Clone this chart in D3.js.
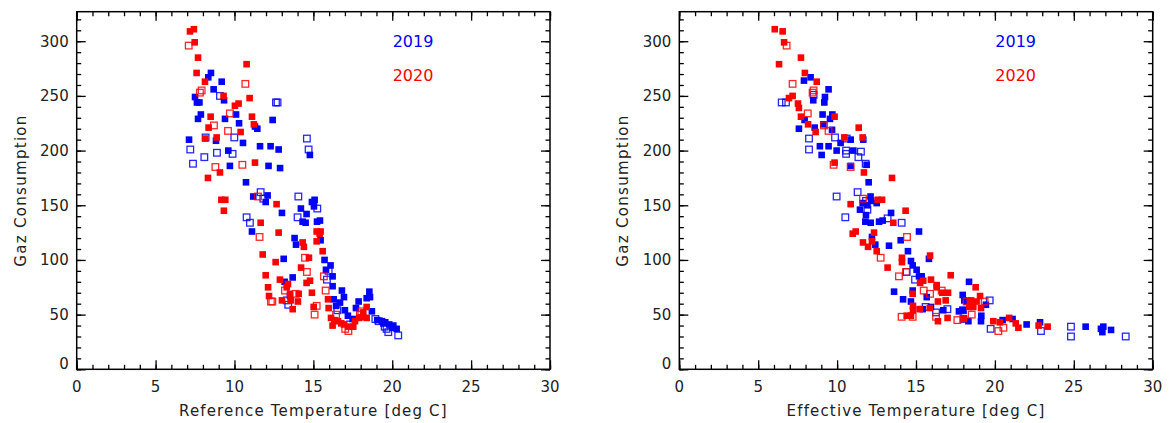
<!DOCTYPE html>
<html><head><meta charset="utf-8">
<script src="https://cdn.jsdelivr.net/npm/d3@7"></script>
<style>
html,body{margin:0;padding:0;background:#fff;}
svg{display:block;}
text{font-family:"DejaVu Sans",sans-serif;fill:#222;}
</style></head>
<body>
<svg id="chart" width="1173" height="423"></svg>
<script>
// ---------- DATA (temperature [deg C], gas consumption) ----------
const xTicks = [0,5,10,15,20,25,30];
const yTicks = [0,50,100,150,200,250,300];
const yearLabels = ["2019","2020"];
const xTitles = ["Reference Temperature [deg C]","Effective Temperature [deg C]"];
const yTitle = "Gaz Consumption";

// Left panel: Reference temperature
const ref2019Filled = [[7.50,249],[7.62,244],[7.78,244],[7.87,233],[7.69,229],[8.34,267],[8.51,271],[8.68,256],[9.19,263],[9.34,246],[10.10,233],[9.40,229],[10.29,225],[11.30,222],[11.45,220],[12.42,228],[7.12,210],[8.83,209],[10.54,207],[9.61,200],[11.62,204],[12.29,204],[12.80,201],[9.71,186],[12.16,186],[12.89,184],[10.73,171],[11.19,158],[12.10,159],[14.78,196],[15.08,155],[11.98,153],[14.91,153],[15.04,149],[14.21,147],[14.57,142],[13.01,143],[14.32,135],[14.51,134],[15.23,135],[15.42,136],[11.11,126],[15.46,118],[13.81,120],[13.90,114],[13.12,101],[15.71,100],[16.09,95],[15.80,91],[16.22,85],[13.18,80],[13.69,84],[16.22,76],[16.81,72],[13.52,67],[16.29,64],[16.94,66],[16.69,61],[16.44,58],[17.00,54],[17.19,49],[17.49,46],[17.87,62],[17.70,56],[18.38,65],[18.55,71],[18.59,66],[18.71,53],[19.05,45],[19.35,44],[19.56,43],[19.81,41],[20.07,40],[20.28,37],[20.02,38],[19.44,42]];
const ref2019Open = [[9.08,250],[8.17,212],[9.99,212],[7.20,201],[7.37,188],[8.09,194],[8.89,198],[9.88,197],[11.66,162],[12.63,244],[12.73,244],[14.05,158],[14.59,211],[14.70,201],[11.83,156],[15.25,147],[10.77,139],[10.98,134],[14.00,139],[15.97,90],[15.86,82],[13.31,63],[13.41,59],[16.52,54],[17.32,41],[18.93,46],[19.14,44],[19.64,37],[20.38,31],[19.52,39],[19.75,34]];
const ref2020Filled = [[7.18,309],[7.43,311],[7.48,299],[7.69,285],[7.60,271],[8.13,263],[10.77,279],[9.31,250],[10.03,241],[10.26,243],[10.96,248],[8.49,231],[8.36,221],[11.11,231],[11.23,224],[10.39,217],[8.87,212],[8.15,211],[11.30,189],[9.08,180],[8.32,175],[9.17,155],[9.42,155],[9.33,145],[12.67,151],[11.66,134],[12.80,125],[15.21,126],[15.46,126],[15.40,124],[15.21,117],[14.32,116],[14.40,112],[15.59,108],[11.79,105],[12.61,98],[14.72,102],[14.22,93],[11.98,86],[12.88,82],[13.39,78],[13.31,75],[14.57,79],[14.79,81],[12.13,75],[12.19,67],[14.91,70],[13.52,69],[14.07,69],[13.01,63],[13.56,63],[14.02,62],[13.69,55],[15.93,64],[15.97,56],[15.02,57],[16.12,47],[16.33,45],[16.22,40],[16.56,44],[16.77,42],[16.94,41],[17.21,39],[17.53,39],[17.64,44],[17.91,47],[18.16,48],[18.38,57],[18.16,52],[18.38,47]];
const ref2020Open = [[7.10,296],[7.81,253],[7.92,255],[10.69,261],[9.71,234],[8.70,223],[9.59,218],[8.79,185],[10.50,187],[11.49,158],[11.59,121],[14.47,102],[14.59,89],[15.67,85],[13.20,72],[15.78,72],[13.88,69],[12.31,62],[12.40,62],[15.21,58],[15.08,50],[17.02,37],[17.22,35],[16.44,50],[18.04,53],[17.95,50]];

// Right panel: Effective temperature
const eff2019Filled = [[7.90,264],[8.32,267],[9.46,256],[8.49,246],[9.23,249],[9.19,244],[9.08,233],[9.70,233],[9.55,229],[7.58,220],[7.94,228],[8.58,221],[9.13,224],[9.68,219],[8.91,204],[9.46,204],[9.02,196],[9.97,200],[10.22,207],[10.86,210],[11.03,200],[11.66,210],[10.86,186],[11.87,187],[12.00,171],[12.12,158],[12.15,154],[11.62,152],[11.92,150],[11.45,146],[11.83,141],[12.51,152],[13.42,143],[11.79,135],[12.13,134],[12.66,135],[12.89,136],[15.19,126],[12.21,121],[14.03,118],[12.42,114],[13.29,113],[14.49,108],[14.68,99],[15.82,101],[14.79,95],[15.04,91],[15.19,85],[15.36,85],[18.36,80],[13.61,71],[14.79,72],[15.68,66],[14.18,64],[14.68,62],[17.96,68],[18.06,63],[18.21,62],[19.43,59],[15.42,55],[15.95,57],[16.73,54],[17.72,53],[17.96,54],[18.32,44],[19.12,44],[19.14,49],[20.49,45],[21.12,46],[22.01,41],[22.86,43],[25.75,39],[26.87,39],[26.72,37],[26.81,34],[27.36,36]];
const eff2019Open = [[6.49,244],[6.76,244],[8.51,251],[8.22,211],[8.22,201],[9.87,212],[10.61,211],[10.57,200],[10.57,197],[11.51,199],[11.35,194],[11.81,188],[11.30,162],[9.97,158],[11.83,154],[11.92,146],[13.20,138],[14.09,134],[10.52,139],[14.41,89],[14.94,82],[15.61,57],[16.27,52],[16.99,55],[17.98,54],[18.00,46],[19.67,63],[19.73,37],[22.92,35],[24.82,39],[24.82,30],[28.29,30]];
const eff2020Filled = [[6.05,311],[6.55,309],[6.64,299],[6.32,279],[7.71,285],[7.96,271],[8.71,263],[6.95,248],[7.18,250],[7.52,243],[7.58,239],[7.71,231],[8.16,224],[8.64,217],[9.84,231],[10.46,212],[11.37,221],[11.62,212],[9.84,189],[11.70,180],[13.48,175],[12.57,155],[12.85,155],[10.86,151],[14.34,145],[13.56,134],[10.99,124],[11.18,126],[12.34,125],[11.64,116],[12.21,117],[11.96,112],[12.51,108],[14.11,102],[14.11,98],[15.89,104],[13.20,93],[15.26,79],[15.46,81],[15.95,82],[16.31,77],[16.31,75],[17.20,86],[18.78,75],[16.66,70],[17.03,70],[14.79,69],[16.39,62],[16.88,63],[19.06,67],[18.49,63],[18.38,57],[18.84,62],[18.42,62],[19.12,56],[18.63,57],[14.81,58],[14.81,54],[15.23,55],[15.87,56],[14.41,49],[14.68,49],[16.39,44],[17.00,47],[18.04,46],[19.90,44],[20.32,43],[20.90,47],[21.32,42],[21.49,38],[22.77,40],[23.34,39]];
const eff2020Open = [[6.80,296],[7.18,261],[8.45,253],[8.51,255],[8.14,234],[9.17,223],[9.46,218],[9.78,187],[10.86,185],[11.64,156],[14.43,121],[12.76,102],[13.92,85],[14.37,89],[15.49,72],[15.89,69],[16.63,72],[14.09,48],[14.79,48],[16.27,48],[17.62,45],[18.53,50],[18.21,62],[19.35,62],[20.22,35],[20.54,38]];

const xDomain = [0,30];
const yDomain = [0,327];
const colors = {"2019":"#0000ff","2020":"#ff0000"};

// ---------- DRAWING ----------
const svg = d3.select("#chart");
const yTopPx = 11.7, yBotPx = 369.3;

const panels = [
  {left:76.7, right:550, title:xTitles[0], sets:[[ref2019Filled,"2019",true],[ref2019Open,"2019",false],[ref2020Filled,"2020",true],[ref2020Open,"2020",false]]},
  {left:679.3, right:1152.7, title:xTitles[1], sets:[[eff2019Filled,"2019",true],[eff2019Open,"2019",false],[eff2020Filled,"2020",true],[eff2020Open,"2020",false]]}
];

panels.forEach(p => {
  const x = d3.scaleLinear().domain(xDomain).range([p.left, p.right]);
  const y = d3.scaleLinear().domain(yDomain).range([yBotPx, yTopPx]);
  const g = svg.append("g");

  // data
  p.sets.forEach(([data, yr, filled]) => {
    const s = 6.6;
    g.append("g").selectAll("rect").data(data).join("rect")
      .attr("x", d => x(d[0]) - s/2)
      .attr("y", d => y(d[1]) - s/2)
      .attr("width", s).attr("height", s)
      .attr("fill", filled ? colors[yr] : "none")
      .attr("stroke", filled ? "none" : colors[yr])
      .attr("stroke-opacity", filled ? 1 : 0.85)
      .attr("stroke-width", filled ? 0 : 1.3);
  });

  // axes with inward ticks on all sides
  const minorX = d3.range(0, 31, 1);
  const minorY = d3.range(0, 327, 10);
  const mk = (fn, vals, len) => fn.tickValues(vals).tickSizeInner(-len).tickSizeOuter(0).tickFormat("");
  const axes = [
    [mk(d3.axisBottom(x), minorX, 4.5), `translate(0,${yBotPx})`],
    [mk(d3.axisBottom(x), xTicks, 9), `translate(0,${yBotPx})`],
    [mk(d3.axisTop(x), minorX, 4.5), `translate(0,${yTopPx})`],
    [mk(d3.axisTop(x), xTicks, 9), `translate(0,${yTopPx})`],
    [mk(d3.axisLeft(y), minorY, 4.5), `translate(${p.left},0)`],
    [mk(d3.axisLeft(y), yTicks, 9), `translate(${p.left},0)`],
    [mk(d3.axisRight(y), minorY, 4.5), `translate(${p.right},0)`],
    [mk(d3.axisRight(y), yTicks, 9), `translate(${p.right},0)`]
  ];
  axes.forEach(([a,t]) => {
     const ag = g.append("g").attr("transform", t).call(a);
     ag.selectAll("path").remove();
     ag.selectAll("line").attr("stroke","#000").attr("stroke-width",1.3);
  });
  g.append("rect").attr("x",p.left).attr("y",yTopPx).attr("width",p.right-p.left).attr("height",yBotPx-yTopPx)
    .attr("fill","none").attr("stroke","#000").attr("stroke-width",1.5);

  // tick labels
  g.selectAll("text.xl").data(xTicks).join("text").attr("class","xl")
    .attr("x", d => x(d)).attr("y", 392).attr("text-anchor","middle")
    .style("font-size","15px").text(d => d);
  g.selectAll("text.yl").data(yTicks).join("text").attr("class","yl")
    .attr("x", p.left - 8).attr("y", d => d === 0 ? y(d) - 0.5 : y(d) + 5.5).attr("text-anchor","end")
    .style("font-size","15px").text(d => d);

  // titles
  g.append("text").attr("x",(p.left+p.right)/2).attr("y",416).attr("text-anchor","middle")
    .style("font-size","15px").style("letter-spacing","1.15px").text(p.title);
  g.append("text").attr("transform",`translate(${p.left-51},${(yTopPx+yBotPx)/2}) rotate(-90)`)
    .attr("text-anchor","middle").style("font-size","15px").style("letter-spacing","1.3px").text(yTitle);

  // year labels
  yearLabels.forEach((yl,i) => {
    g.append("text").attr("x", p.left + 316).attr("y", 47 + i*34)
      .style("font-size","16px").style("fill", colors[yl]).text(yl);
  });
});
</script>
</body></html>
